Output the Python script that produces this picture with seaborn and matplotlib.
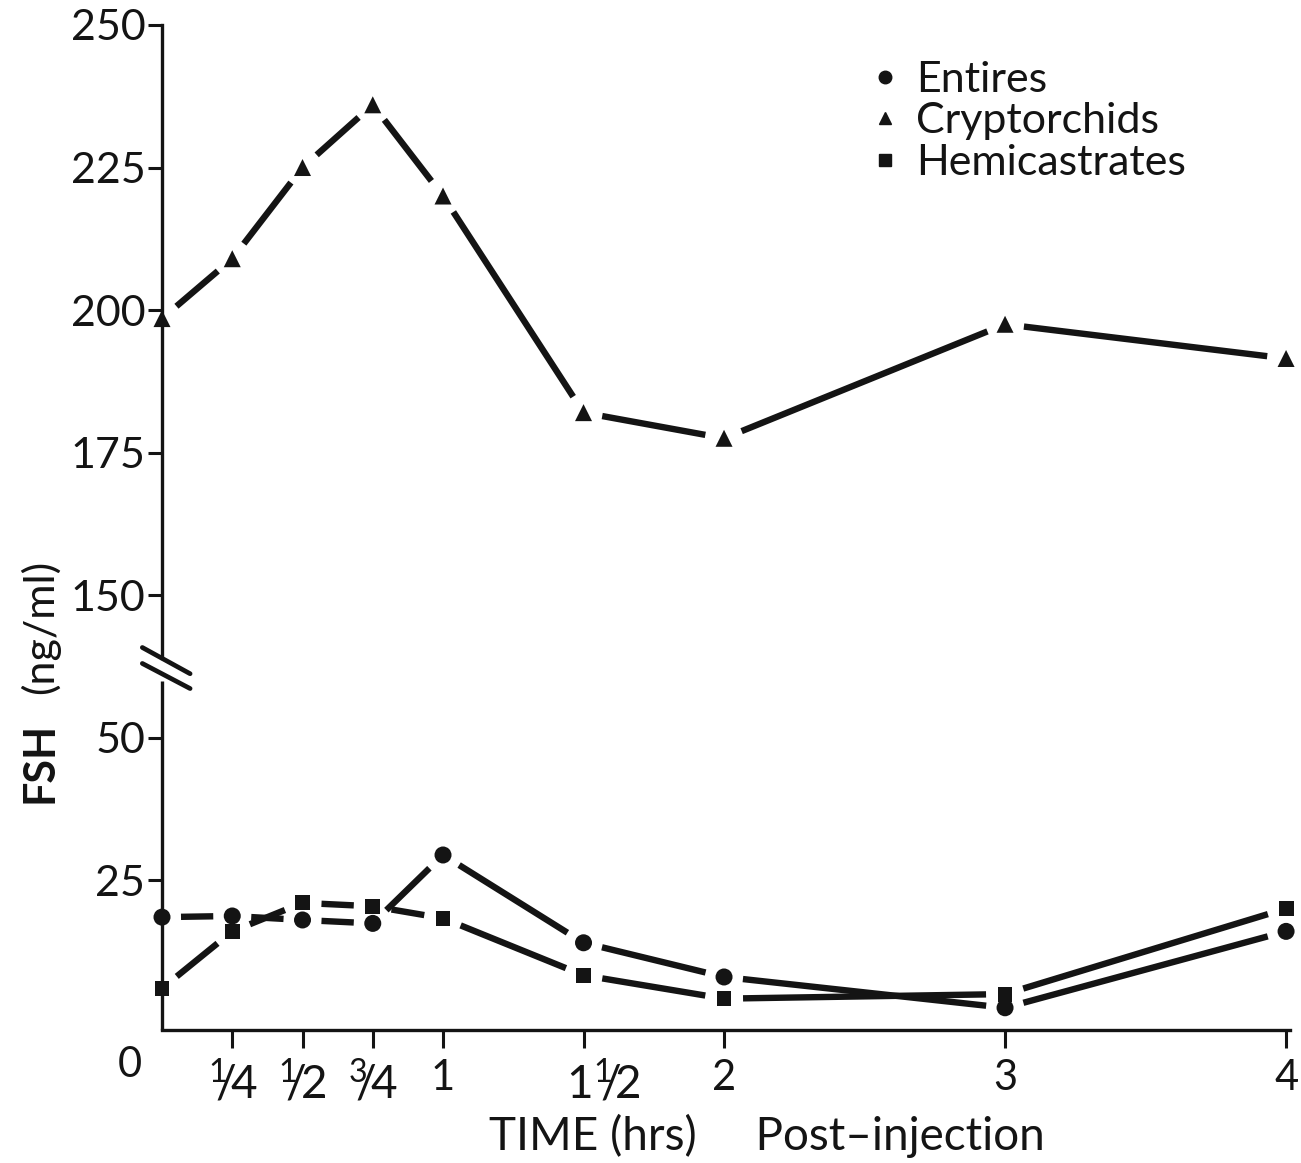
import matplotlib
matplotlib.use("Agg")
import matplotlib.pyplot as plt
import matplotlib.transforms as mtransforms
import numpy as np
import pandas as pd
import seaborn as sns
from matplotlib.lines import Line2D

# FSH (ng/ml) after injection, three groups of animals
hours = [0, 0.25, 0.5, 0.75, 1, 1.5, 2, 3, 4]
entires = [18.5, 18.7, 18.0, 17.4, 29.4, 14.0, 8.0, 2.6, 16.0]
cryptorchids = [198.5, 209.0, 225.0, 236.0, 220.0, 182.0, 177.5, 197.5, 191.5]
hemicastrates = [6.0, 16.0, 21.0, 20.4, 18.3, 8.3, 4.2, 5.0, 20.0]

groups = ["Entires", "Cryptorchids", "Hemicastrates"]
group_markers = {"Entires": "o", "Cryptorchids": "^", "Hemicastrates": "s"}
group_area = {"Entires": 150, "Cryptorchids": 150, "Hemicastrates": 115}

ytick_values = [25, 50, 150, 175, 200, 225, 250]
xtick_values = [0.25, 0.5, 0.75, 1, 1.5, 2, 3, 4]
xtick_labels = [r"$^{1}\!\!/\!4$", r"$^{1}\!\!/\!2$", r"$^{3}\!\!/\!4$", "1",
                r"$1^{1}\!\!/\!2$", "2", "3", "4"]

# The y axis is broken between 50 and 150: values above the break are
# drawn 75 units lower so both bands share one linear scale.
BREAK_SHIFT = 75.0
GAP_PX = 19  # open space left between a line and each symbol centre


def fold(v):
    v = np.asarray(v, dtype=float)
    return np.where(v > 100, v - BREAK_SHIFT, v)


df = pd.DataFrame({
    "hours": hours * 3,
    "fsh": entires + cryptorchids + hemicastrates,
    "group": [g for g in groups for _ in hours],
})
df["y"] = fold(df["fsh"])

sns.set_style("ticks")
plt.rcParams["font.family"] = ["Lato", "DejaVu Sans"]
plt.rcParams["mathtext.fontset"] = "custom"
plt.rcParams["mathtext.rm"] = "Lato"
plt.rcParams["mathtext.it"] = "Lato"
plt.rcParams["mathtext.default"] = "rm"
INK = "#141414"

fig = plt.figure(figsize=(13.01, 11.63), dpi=100)
ax = fig.add_axes([162 / 1301, 133 / 1163, 1128 / 1301, 1005 / 1163])
ax.set_xlim(0, 4.014)
ax.set_ylim(-1.3, 175)

# Split every series into separate segments that stop short of the symbols
rows = []
seg_id = 0
to_pix = ax.transData
to_data = ax.transData.inverted()
for g in groups:
    sub = df[df["group"] == g].sort_values("hours")
    pix = to_pix.transform(sub[["hours", "y"]].to_numpy())
    for p0, p1 in zip(pix[:-1], pix[1:]):
        d = (p1 - p0) / np.hypot(*(p1 - p0))
        a = to_data.transform(p0 + d * GAP_PX)
        b = to_data.transform(p1 - d * GAP_PX)
        rows.append({"seg": seg_id, "group": g, "hours": a[0], "y": a[1]})
        rows.append({"seg": seg_id, "group": g, "hours": b[0], "y": b[1]})
        seg_id += 1
segs = pd.DataFrame(rows)

for seg, part in segs.groupby("seg"):
    sns.lineplot(data=part, x="hours", y="y", estimator=None, color=INK,
                 linewidth=4.6, sort=False, legend=False, ax=ax,
                 solid_capstyle="butt")

for g in groups:
    sub = df[df["group"] == g]
    sns.scatterplot(data=sub, x="hours", y="y", marker=group_markers[g],
                    s=group_area[g], color=INK, edgecolor="none",
                    legend=False, ax=ax, clip_on=False, zorder=7)

ax.set_xlim(0, 4.014)
ax.set_ylim(-1.3, 175)

# axes frame
sns.despine(ax=ax, top=True, right=True)
for side in ("left", "bottom"):
    ax.spines[side].set_linewidth(2.4)
    ax.spines[side].set_color(INK)
ax.spines["left"].set_bounds(64, 175)
ax.plot([0, 0], [-1.3, 60], color=INK, lw=2.4, clip_on=False, zorder=2.5,
        solid_capstyle="butt")
# break marks
for y_hi, y_lo in [(65.8, 61.2), (63.0, 58.6)]:
    ax.plot([-0.07, 0.10], [y_hi, y_lo], color=INK, lw=3.4, clip_on=False,
            zorder=8, solid_capstyle="round")

ax.set_yticks(fold(ytick_values))
ax.set_yticklabels([str(v) for v in ytick_values])
ax.set_xticks(xtick_values)
ax.set_xticklabels(xtick_labels)
ax.tick_params(axis="both", direction="out", width=2.2,
               color=INK, labelcolor=INK)
ax.tick_params(axis="y", labelsize=31, pad=2, length=10)
ax.tick_params(axis="x", labelsize=30, pad=8, length=13)
for lab, txt in zip(ax.get_xticklabels(), xtick_labels):
    if "$" in txt:
        lab.set_fontsize(33)
    if txt.startswith("$1"):
        # the mixed number sits a little to the right of its tick
        lab.set_transform(lab.get_transform() + mtransforms.ScaledTranslation(
            0.2, 0, fig.dpi_scale_trans))

ax.annotate("0", xy=(0, 0), xycoords=("data", "axes fraction"),
            xytext=(-32, -35), textcoords="offset pixels",
            ha="center", va="center", fontsize=30, color=INK)

ax.set_xlabel("TIME (hrs)     Post–injection", fontsize=33, color=INK)
ax.xaxis.set_label_coords(0.536, -0.1055)
ax.xaxis.label.set_va("center")
ax.set_ylabel("")

fig.text(40 / 1301, 1 - 762 / 1163, "FSH", rotation=90, fontsize=31,
         fontweight="bold", ha="center", va="center", color=INK)
fig.text(40 / 1301, 1 - 627 / 1163, "(ng/ml)", rotation=90, fontsize=31,
         ha="center", va="center", color=INK)

handles = [Line2D([], [], marker=group_markers[g], color=INK, linestyle="None",
                  markersize=9) for g in groups]
ax.legend(handles, groups, loc="upper left",
          bbox_to_anchor=(872 / 1301, 1 - 61 / 1163),
          bbox_transform=fig.transFigure, frameon=False, fontsize=31,
          handlelength=0.6, handletextpad=0.42, labelspacing=0.08,
          borderpad=0, borderaxespad=0, labelcolor=INK)

fig.savefig("out.png", dpi=100)
